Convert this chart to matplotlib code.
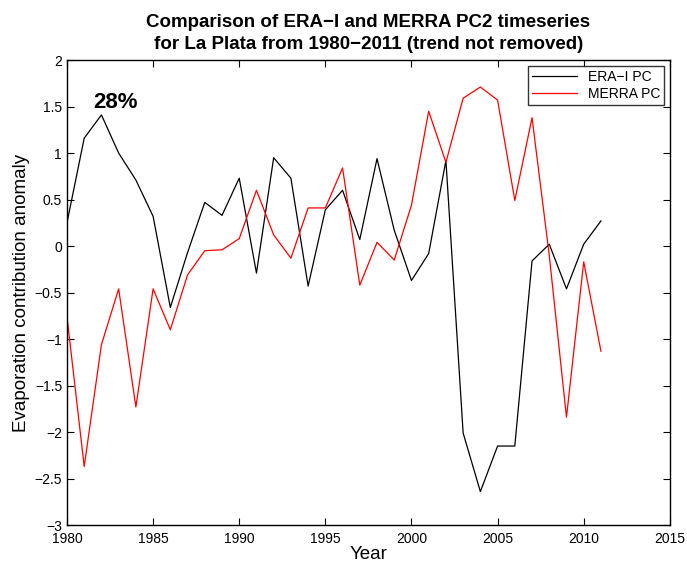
import matplotlib.pyplot as plt
import numpy as np

plt.rcParams['font.family'] = ['Liberation Sans', 'DejaVu Sans']

years = np.arange(1980, 2012)
era_pc = [0.25, 1.16, 1.41, 1.00, 0.71, 0.32, -0.66, -0.07, 0.47, 0.33,
          0.73, -0.29, 0.95, 0.73, -0.43, 0.39, 0.60, 0.07, 0.94, 0.17,
          -0.37, -0.08, 0.92, -2.01, -2.64, -2.15, -2.15, -0.16, 0.02, -0.46,
          0.02, 0.27]
merra_pc = [-0.76, -2.37, -1.06, -0.46, -1.73, -0.46, -0.90, -0.31, -0.05, -0.04,
            0.08, 0.60, 0.12, -0.13, 0.41, 0.41, 0.84, -0.42, 0.04, -0.15,
            0.44, 1.45, 0.90, 1.59, 1.71, 1.57, 0.49, 1.38, -0.10, -1.84,
            -0.17, -1.13]

fig = plt.figure(figsize=(6.87, 5.72), dpi=100)
ax = fig.add_axes([0.0975, 0.082, 0.8775, 0.813])

ax.plot(years, era_pc, color='k', lw=0.9, label='ERA\u2212I PC')
ax.plot(years, merra_pc, color='r', lw=0.9, label='MERRA PC')

ax.set_xlim(1980, 2015)
ax.set_ylim(-3, 2)
ax.set_xticks(np.arange(1980, 2016, 5))
ax.set_yticks(np.arange(-3, 2.01, 0.5))
ax.set_yticklabels(['\u22123', '\u22122.5', '\u22122', '\u22121.5', '\u22121', '\u22120.5',
                    '0', '0.5', '1', '1.5', '2'])
ax.tick_params(direction='in', top=True, right=True, labelsize=10, length=5)
ax.tick_params(axis='x', pad=5)
for s in ax.spines.values():
    s.set_linewidth(1.0)

ax.set_xlabel('Year', fontsize=13.5, labelpad=0)
ax.set_ylabel('Evaporation contribution anomaly', fontsize=13.5, labelpad=3)
ax.set_title('Comparison of ERA\u2212I and MERRA PC2 timeseries\nfor La Plata from 1980\u22122011 (trend not removed)',
             fontsize=13.5, fontweight='bold', pad=8, linespacing=1.35)

ax.text(1981.5, 1.48, '28%', fontsize=16, fontweight='bold')

leg = ax.legend(loc='upper right', fontsize=10, frameon=True, fancybox=False,
                edgecolor='k', borderaxespad=0.4, handlelength=3.2, borderpad=0.3,
                labelspacing=0.2)
leg.get_frame().set_linewidth(1.0)

fig.savefig('out.png', dpi=100)
